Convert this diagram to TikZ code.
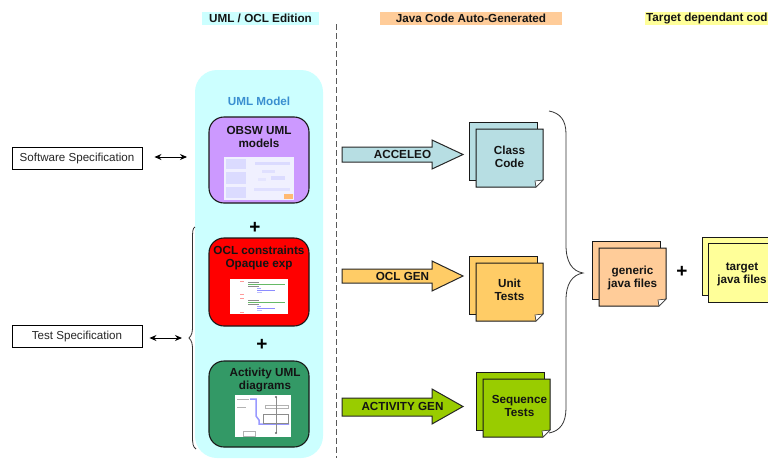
\documentclass[tikz,border=0pt]{standalone}
\usepackage{fontspec}
\setmainfont{Liberation Sans}
\usetikzlibrary{arrows.meta}
\definecolor{cyanbg}{HTML}{CCFFFF}
\definecolor{orangebg}{HTML}{FFCC99}
\definecolor{yellowbg}{HTML}{FFFF99}
\definecolor{purplebox}{HTML}{CC99FF}
\definecolor{greenbox}{HTML}{339966}
\definecolor{bluegray}{HTML}{B7DEE3}
\definecolor{gold}{HTML}{FFCC66}
\definecolor{lime}{HTML}{99CC00}
\definecolor{titleblue}{HTML}{3A8FD0}
\tikzset{
  btext/.style={font=\fontsize{11.7}{13}\selectfont\bfseries, align=center, inner sep=0pt, text=black!92},
  headbar/.style={btext, minimum height=13pt, inner sep=0pt},
  specbox/.style={draw=black, line width=0.9pt, fill=white, minimum width=130pt, minimum height=22pt, inner sep=0pt, font=\fontsize{11.6}{12}\selectfont, text=black!85},
  model/.style={draw=black!90, line width=1.1pt, rounded corners=15pt},
  bigarrow/.style={draw=black!85, line width=1pt, line join=miter},
  sheet/.style={draw=black!90, line width=1pt, line join=miter},
  link/.style={{Stealth[length=7pt,width=6pt]}-{Stealth[length=7pt,width=6pt]}, line width=0.9pt, black},
  brace/.style={draw=black!80, line width=0.8pt},
  plusmark/.style={font=\fontsize{19}{19}\selectfont\bfseries, inner sep=0pt},
}
\newcommand{\docstack}[7]{% name x0 y0 dy colour label label-dx
  \path[sheet, fill=#5] (#2,#3) rectangle ++(68,58);
  \path[sheet, fill=#5] (#2+7,#3+7) -- ++(67,0) -- ++(0,51) -- ++(-7,7) -- ++(-60,0) -- cycle;
  \path[draw=black!80, line width=0.6pt, fill=white] (#2+74,#3+58) -- ++(-7,7) -- ++(-1,-6) -- cycle;
  \coordinate (#1) at (#2+40.5+#7,#3+#4);
  \node[btext] (#1label) at (#1) {#6};
}
\newcommand{\genarrow}[7]{% name y-tail-top y-tail-bot y-head-top y-head-bot colour label
  \path[bigarrow, fill=#6] (342,#2) -- (432,#2) -- (432,#4) -- (463,{(#4+#5)/2}) -- (432,#5) -- (432,#3) -- (342,#3) -- cycle;
  \node[btext] (#1) at (402.5,{(#4+#5)/2}) {#7};
}
\begin{document}
\begin{tikzpicture}[x=1pt,y=-1pt]
\useasboundingbox (0,0) rectangle (768,458);
\fill[white] (0,0) rectangle (768,458);

% header labels
\node[headbar, fill=cyanbg, minimum width=117pt] (headuml) at (260.5,18.5) {UML / OCL Edition};
\node[headbar, fill=orangebg, minimum width=182pt] (headjava) at (471,18.5) {Java Code Auto-Generated};
\fill[yellowbg] (645,12) rectangle (768,25);
\node[btext, anchor=west] (headtarget) at (646,18.5) {Target dependant cod};

% separator
\coordinate (septop) at (336,24);
\coordinate (sepbot) at (336,458);
\draw[black!65, line width=1pt, dash pattern=on 6pt off 3pt] (septop) -- (sepbot);

% cyan panel
\begin{scope}
\clip (190,60) rectangle (330,458);
\fill[cyanbg, rounded corners=22pt] (195,70) rectangle (323,458);
\end{scope}
\node[btext, text=titleblue] (umlmodel) at (259,101) {UML Model};

% OBSW
\draw[model, fill=purplebox] (209,117) rectangle (309,203);
\node[btext] (obsw) at (259,137) {OBSW UML\\models};
\fill[white!94!blue] (224,157) rectangle (294,200);
\fill[blue!14!white] (226,159) rectangle (246,169);
\fill[blue!14!white] (226,172) rectangle (246,184);
\fill[blue!14!white] (226,187) rectangle (246,198);
\fill[blue!14!white] (255,162) rectangle (290,165);
\fill[blue!12!white] (262,170) rectangle (275,173);
\fill[blue!14!white] (271,176) rectangle (285,180);
\fill[blue!10!white] (258,178) rectangle (266,181);
\fill[blue!12!white] (254,188) rectangle (290,191);
\fill[orange!55!white] (284,194) rectangle (293,199);

\node[plusmark] (plusa) at (255,228) {+};

% OCL
\draw[model, fill=red] (209,238) rectangle (309,326);
\node[btext] (ocl) at (259,258) {OCL constraints\\Opaque exp};
\fill[white] (230,279) rectangle (288,314);
\fill[red!40!white] (240,280.5) rectangle (244,281.5);
\fill[red!40!white] (240,294) rectangle (244,295);
\fill[red!40!white] (240,298) rectangle (244,299);
\fill[red!40!white] (240,312) rectangle (244,313);
\fill[black!45] (248,282) rectangle (259,283);
\fill[green!55!black!60] (248,284) rectangle (285,285);
\fill[black!45] (248,286) rectangle (259,287);
\fill[blue!35] (257,288) rectangle (261,289);
\fill[blue!45] (257,290) rectangle (275,291);
\fill[blue!25] (257,292) rectangle (262,293);
\fill[black!45] (248,300) rectangle (259,301);
\fill[green!55!black!60] (248,302) rectangle (285,303);
\fill[black!45] (248,304) rectangle (259,305);
\fill[blue!35] (257,306) rectangle (261,307);
\fill[blue!45] (257,308) rectangle (275,309);
\fill[blue!25] (257,310) rectangle (262,311);

\node[plusmark] (plusb) at (262,345) {+};

% Activity
\draw[model, fill=greenbox] (209,361) rectangle (309,447);
\node[btext] (activity) at (265,379.5) {Activity UML\\diagrams};
\fill[white] (235,395) rectangle (291,437);
\draw[blue!40, line width=1.5pt] (250,399) -- (256,399) -- (256,416) -- (259,420) -- (259,424) -- (289,424);
\draw[black!30, line width=0.7pt] (265,405) rectangle (288,408);
\draw[black!45, line width=0.7pt] (263,414) rectangle (288,423);
\draw[black!45, line width=0.5pt] (276,397) -- (276,433);
\fill[black!60] (276,397) circle (1.2pt);
\fill[black!60] (276,433) circle (1.2pt);
\fill[black!30] (237,399) rectangle (249,400);
\fill[black!30] (237,407) rectangle (246,408);
\draw[black!30, line width=0.6pt] (243,431) rectangle (255,436);

% left specs
\node[specbox] (swspec) at (77,158) {\raisebox{-1pt}{Software Specification}};
\node[specbox] (testspec) at (77,336) {\raisebox{-1pt}{Test Specification}};
\coordinate (swend) at (187,157);
\coordinate (testend) at (182,338);
\draw[link, shorten <=12pt] (swspec.east |- swend) -- (swend);
\draw[link, shorten <=7pt] (testspec.east |- testend) -- (testend);

% left brace
\draw[brace] (195,227) .. controls (192.5,228) and (192.5,232) .. (192.5,240) -- (192.5,326) .. controls (192.5,332) and (192,335) .. (189,338) .. controls (192,341) and (192.5,344) .. (192.5,350) -- (192.5,436) .. controls (192.5,444) and (193,447) .. (196,449);

% generator arrows
\genarrow{acceleo}{147}{162}{140}{169}{bluegray}{ACCELEO}
\genarrow{oclgen}{269}{283}{261}{291}{gold}{OCL GEN}
\genarrow{activitygen}{398}{416}{389}{424}{lime}{ACTIVITY GEN}

% documents
\docstack{classcode}{469}{122}{35}{bluegray}{Class\\Code}{0}
\docstack{unittests}{469}{256}{34}{gold}{Unit\\Tests}{0}
\docstack{seqtests}{476}{372}{34}{lime}{Sequence\\Tests}{3}

% right brace
\draw[brace] (549,111) .. controls (560,113) and (566,120) .. (566,134) -- (566,245) .. controls (566,262) and (572,271) .. (583,273) .. controls (572,275) and (566,284) .. (566,300) -- (566,408) .. controls (566,423) and (560,431) .. (549,433);

% output documents
\docstack{genericjava}{592}{241}{37}{orangebg}{generic\\java files}{0}
\node[plusmark] (plusc) at (682,272) {+};
\path[sheet, fill=yellowbg] (702,237) rectangle (790,295);
\path[sheet, fill=yellowbg] (708,243) rectangle (790,302);
\node[btext] (targetjava) at (742,274.5) {target\\java files};
\end{tikzpicture}
\end{document}
